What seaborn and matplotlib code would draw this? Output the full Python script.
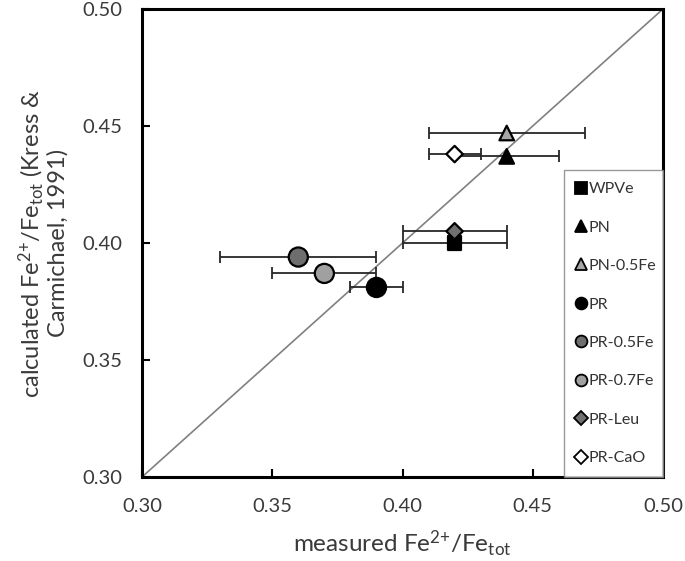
import numpy as np
import pandas as pd
import seaborn as sns
import matplotlib.pyplot as plt

samples = ["WPVe", "PN", "PN-0.5Fe", "PR", "PR-0.5Fe", "PR-0.7Fe", "PR-Leu", "PR-CaO"]
measured = [0.42, 0.44, 0.44, 0.39, 0.36, 0.37, 0.42, 0.42]
calculated = [0.400, 0.437, 0.447, 0.381, 0.394, 0.387, 0.405, 0.438]
measured_err = [0.02, 0.02, 0.03, 0.01, 0.03, 0.02, 0.02, 0.01]

markers = ["s", "^", "^", "o", "o", "o", "D", "D"]
colors = ["#000000", "#000000", "#a6a6a6", "#000000", "#6e6e6e", "#a0a0a0", "#707070", "#ffffff"]
sizes = [90, 110, 110, 190, 190, 190, 70, 70]

df = pd.DataFrame({"sample": samples, "measured": measured,
                   "calculated": calculated, "err": measured_err})

sns.set_theme(style="white")
plt.rcParams['font.family'] = ['Lato', 'DejaVu Sans']
plt.rcParams['mathtext.default'] = 'regular'

fig = plt.figure(figsize=(6.85, 5.61), dpi=100)
ax = fig.add_axes([0.2073, 0.1497, 0.7606, 0.8343])

# 1:1 line
ax.plot([0.3, 0.5], [0.3, 0.5], color="#808080", lw=1.2, zorder=1)

ax.errorbar(df["measured"], df["calculated"], xerr=df["err"], fmt="none",
            ecolor="#262626", elinewidth=1.3, capsize=4, capthick=1.3, zorder=2)

sns.scatterplot(data=df, x="measured", y="calculated", hue="sample", style="sample",
                size="sample", sizes=dict(zip(samples, sizes)),
                markers=dict(zip(samples, markers)), palette=dict(zip(samples, colors)),
                edgecolor="black", linewidth=1.6, ax=ax, zorder=3, legend=False)

handles = [plt.Line2D([], [], marker=m, color="none", markerfacecolor=c,
                      markeredgecolor="black", markeredgewidth=1.3,
                      markersize=8.5 if m != "D" else 7)
           for m, c in zip(markers, colors)]
leg = ax.legend(handles, samples, loc="upper left", bbox_to_anchor=(0.81, 0.0, 0.19, 0.656),
                mode="expand", frameon=True, fancybox=False, fontsize=11.5,
                labelspacing=1.52, handlelength=0.6, handletextpad=0.2,
                borderpad=0.75, borderaxespad=0.0)
leg.get_frame().set_edgecolor("#808080")
leg.get_frame().set_linewidth(1.0)
for t in leg.get_texts():
    t.set_color("#333333")

ax.set_xlim(0.3, 0.5)
ax.set_ylim(0.3, 0.5)
ax.set_xticks(np.arange(0.30, 0.501, 0.05))
ax.set_yticks(np.arange(0.30, 0.501, 0.05))
ax.set_xticklabels(["0.30", "0.35", "0.40", "0.45", "0.50"])
ax.set_yticklabels(["0.30", "0.35", "0.40", "0.45", "0.50"])
ax.tick_params(axis="both", direction="in", length=6, width=1.5, labelsize=14.5,
               colors="black", labelcolor="#3a3a3a", bottom=True, left=True)
ax.tick_params(axis="x", pad=15)
ax.tick_params(axis="y", pad=14)
for sp in ax.spines.values():
    sp.set_color("black")
    sp.set_linewidth(2.2)

ax.set_xlabel("measured Fe$^{2{+}}$/Fe$_{tot}$", fontsize=17.5, color="#3a3a3a", labelpad=10)
ax.set_ylabel("calculated Fe$^{2{+}}$/Fe$_{tot}$ (Kress &\nCarmichael, 1991)",
              fontsize=17, color="#3a3a3a", labelpad=10, linespacing=1.05)

fig.savefig("out.png", dpi=100)
